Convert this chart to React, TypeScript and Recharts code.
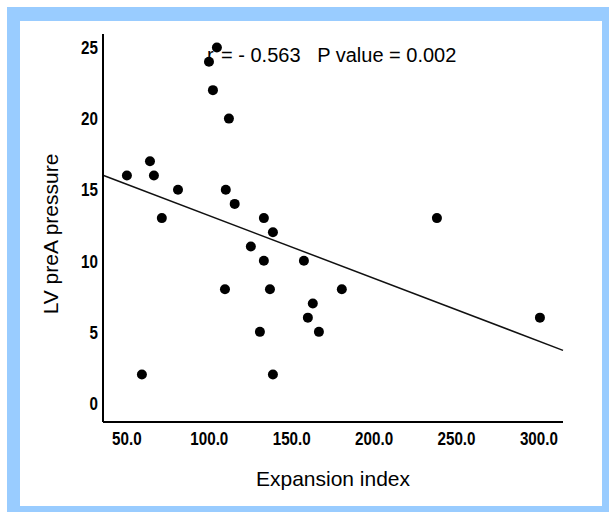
import React from 'react';
import { ScatterChart, Scatter, XAxis, YAxis, ReferenceLine } from 'recharts';

// Expansion index (x) vs LV preA pressure (y)
const expansionIndex = [
  50.0, 59.1, 64.0, 66.4, 71.2, 81.0, 99.8, 102.2, 104.6, 110.0, 109.5, 111.9, 115.4, 125.2,
  130.7, 133.1, 133.1, 136.8, 138.6, 138.6, 157.4, 159.8, 162.8, 166.5, 180.4, 238.1, 300.6,
];
const lvPreAPressure = [
  16, 2, 17, 16, 13, 15, 24, 22, 25, 15, 8, 20, 14, 11,
  5, 13, 10, 8, 12, 2, 10, 6, 7, 5, 8, 13, 6,
];

// fitted regression line, end points at the axis edges
const fitX = [35.5, 314.6];
const fitY = [16.02, 3.7];

const xTicks = [50, 100, 150, 200, 250, 300];
const yTicks = [0, 5, 10, 15, 20, 25];

const xDomain: [number, number] = [35.5, 314.6];
const yDomain: [number, number] = [-1.34, 25.95];

const statsText = '= - 0.563   P value = 0.002';

const FONT = '"Liberation Sans", Arial, sans-serif';

const points = expansionIndex.map((x, i) => ({ x, y: lvPreAPressure[i] }));

const Dot = (props: any) => {
  const { cx, cy } = props;
  if (cx == null || cy == null) return null;
  return <circle cx={cx} cy={cy} r={5} fill="#000" />;
};

// narrow bold tick text (SPSS uses a condensed face)
const TICK_SIZE = 19;
const narrowWidth = (s: string) =>
  s.split('').reduce((w, c) => w + (c === '.' ? 0.278 : 0.556), 0) * TICK_SIZE * 0.8;

const NarrowTick = (props: any) => {
  const { x, y, payload, textAnchor, isX } = props;
  const label = isX ? Number(payload.value).toFixed(1) : String(payload.value);
  return (
    <text
      x={x}
      y={y}
      dy={isX ? '0.71em' : '0.355em'}
      textAnchor={textAnchor}
      fill="#000"
      fontFamily={FONT}
      fontSize={TICK_SIZE}
      fontWeight={700}
      textLength={narrowWidth(label)}
      lengthAdjust="spacingAndGlyphs"
    >
      {label}
    </text>
  );
};

export default function App() {
  return (
    <div style={{ position: 'fixed', left: 0, top: 0, width: 609, height: 512, background: '#fff', overflow: 'hidden' }}>
      {/* blue frame */}
      <div style={{ position: 'absolute', left: 7, top: 7, width: 602, height: 505, background: '#99CCFF' }} />
      <div style={{ position: 'absolute', left: 20, top: 21, width: 582, height: 485, background: '#fff' }} />

      {/* correlation text, sits under the dots */}
      <div
        style={{
          position: 'absolute',
          left: 207,
          top: 45,
          fontFamily: FONT,
          fontSize: 20,
          lineHeight: '20px',
          color: '#000',
        }}
      >
        r
      </div>
      <div
        style={{
          position: 'absolute',
          left: 221,
          top: 45,
          fontFamily: FONT,
          fontSize: 20,
          lineHeight: '20px',
          whiteSpace: 'pre',
          color: '#000',
        }}
      >
        {statsText}
      </div>

      <div
        style={{
          position: 'absolute',
          left: 333,
          top: 468,
          transform: 'translateX(-50%)',
          fontFamily: FONT,
          fontSize: 21,
          lineHeight: '21px',
          whiteSpace: 'nowrap',
          color: '#000',
        }}
      >
        Expansion index
      </div>
      <div
        style={{
          position: 'absolute',
          left: 50,
          top: 234,
          transform: 'translate(-50%, -50%) rotate(-90deg)',
          fontFamily: FONT,
          fontSize: 21,
          lineHeight: '21px',
          whiteSpace: 'nowrap',
          color: '#000',
        }}
      >
        LV preA pressure
      </div>

      <div style={{ position: 'absolute', left: 0, top: 0 }}>
        <ScatterChart width={609} height={512} margin={{ top: 34, right: 46, bottom: 30, left: 0 }}>
          <XAxis
            type="number"
            dataKey="x"
            domain={xDomain}
            ticks={xTicks}
            allowDataOverflow
            height={60}
            tickLine={false}
            tickSize={0}
            tickMargin={10}
            tick={<NarrowTick isX />}
            axisLine={{ stroke: '#000', strokeWidth: 2 }}
          />
          <YAxis
            type="number"
            dataKey="y"
            domain={yDomain}
            ticks={yTicks}
            allowDataOverflow
            width={103}
            tickLine={false}
            tickSize={0}
            tickMargin={5}
            tick={<NarrowTick />}
            axisLine={{ stroke: '#000', strokeWidth: 2 }}
          />
          <ReferenceLine
            segment={[
              { x: fitX[0], y: fitY[0] },
              { x: fitX[1], y: fitY[1] },
            ]}
            stroke="#111"
            strokeWidth={1.5}
            ifOverflow="visible"
          />
          <Scatter data={points} shape={<Dot />} isAnimationActive={false} />
        </ScatterChart>
      </div>
    </div>
  );
}
